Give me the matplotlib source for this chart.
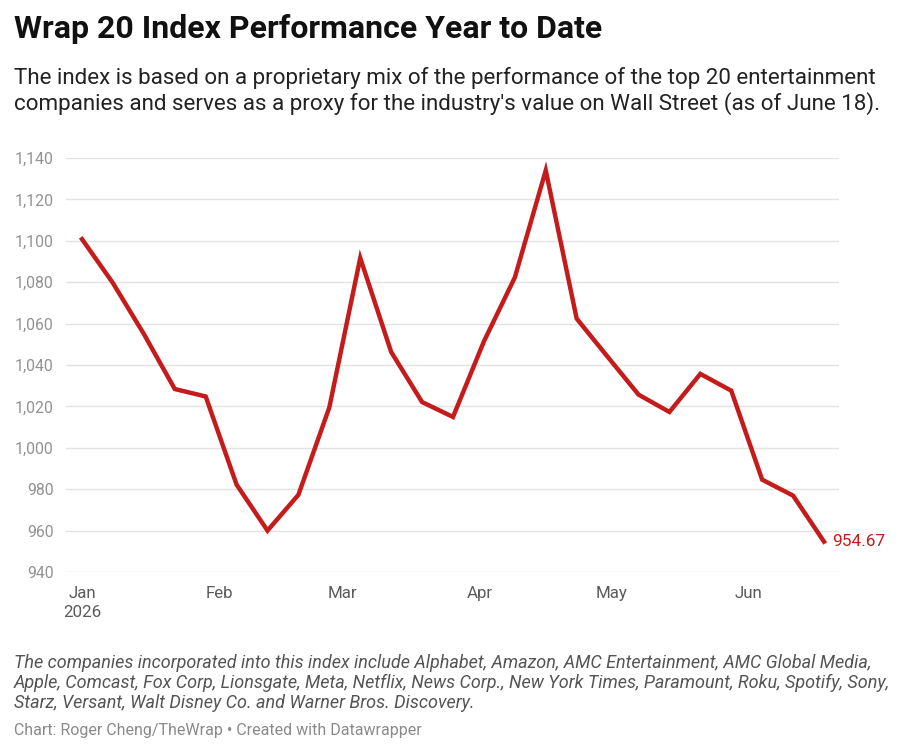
import matplotlib
matplotlib.use("Agg")
import matplotlib.pyplot as plt
import pandas as pd

# weekly index values, Jan 1 - Jun 18 2026
dates = pd.date_range("2026-01-01", "2026-06-18", freq="7D")
values = [1100.8, 1079.6, 1055.0, 1028.4, 1024.8, 982.2, 960.0, 977.3,
          1019.5, 1091.7, 1046.3, 1022.1, 1014.9, 1051.4, 1082.3, 1134.0,
          1062.4, 1044.0, 1025.7, 1017.3, 1035.7, 1027.6, 984.6, 976.9, 954.67]
yticks = [940, 960, 980, 1000, 1020, 1040, 1060, 1080, 1100, 1120, 1140]
month_starts = pd.date_range("2026-01-01", "2026-06-01", freq="MS")
month_labels = ["Jan\n2026", "Feb", "Mar", "Apr", "May", "Jun"]

title = "Wrap 20 Index Performance Year to Date"
subtitle = ["The index is based on a proprietary mix of the performance of the top 20 entertainment",
            "companies and serves as a proxy for the industry's value on Wall Street (as of June 18)."]
notes = ["The companies incorporated into this index include Alphabet, Amazon, AMC Entertainment, AMC Global Media,",
         "Apple, Comcast, Fox Corp, Lionsgate, Meta, Netflix, News Corp., New York Times, Paramount, Roku, Spotify, Sony,",
         "Starz, Versant, Walt Disney Co. and Warner Bros. Discovery."]
credit = "Chart: Roger Cheng/TheWrap \u2022 Created with Datawrapper"

RED = "#c51b1b"
plt.rcParams["font.family"] = ["Roboto", "DejaVu Sans"]

W, H = 900, 754
fig = plt.figure(figsize=(W / 100, H / 100), dpi=100)
ax = fig.add_axes([66 / W, 1 - 572 / H, (839 - 66) / W, (572 - 158) / H])

ax.plot(dates, values, color=RED, lw=3.2, solid_joinstyle="miter", clip_on=False, zorder=3)
ax.text(dates[-1] + pd.Timedelta(days=1.8), values[-1], f"{values[-1]:.2f}",
        color=RED, fontsize=12.4, va="center", ha="left", clip_on=False)

# x range: Jan 1 sits at x=82px, Jun 18 at x=824px
px_per_day = (824 - 82) / (dates[-1] - dates[0]).days
ax.set_xlim(dates[0] - pd.Timedelta(days=16 / px_per_day),
            dates[-1] + pd.Timedelta(days=15 / px_per_day))
ax.set_ylim(940, 1140)

ax.set_yticks(yticks)
ax.set_yticklabels([f"{v:,}" for v in yticks])
ax.set_xticks(month_starts)
ax.set_xticklabels(month_labels, linespacing=1.35, va="top")

ax.grid(axis="y", color="#e3e3e3", lw=1)
ax.set_axisbelow(True)
for s in ax.spines.values():
    s.set_visible(False)
ax.tick_params(axis="y", length=0, pad=9, labelsize=11.4, labelcolor="#939393")
ax.tick_params(axis="x", length=0, pad=10, labelsize=12.2, labelcolor="#5a5a5a")

fig.text(14 / W, 1 - 38 / H, title, fontsize=23, fontweight="bold", color="#111111", va="baseline")
for i, line in enumerate(subtitle):
    fig.text(14 / W, 1 - (84 + 26 * i) / H, line, fontsize=16.1, color="#222222", va="baseline")
for i, line in enumerate(notes):
    fig.text(14 / W, 1 - (668 + 20 * i) / H, line, fontsize=13, style="italic", color="#555555", va="baseline")
fig.text(14 / W, 1 - 735 / H, credit, fontsize=11.5, color="#8a8a8a", va="baseline")

fig.savefig("out.png", dpi=100, facecolor="white")
